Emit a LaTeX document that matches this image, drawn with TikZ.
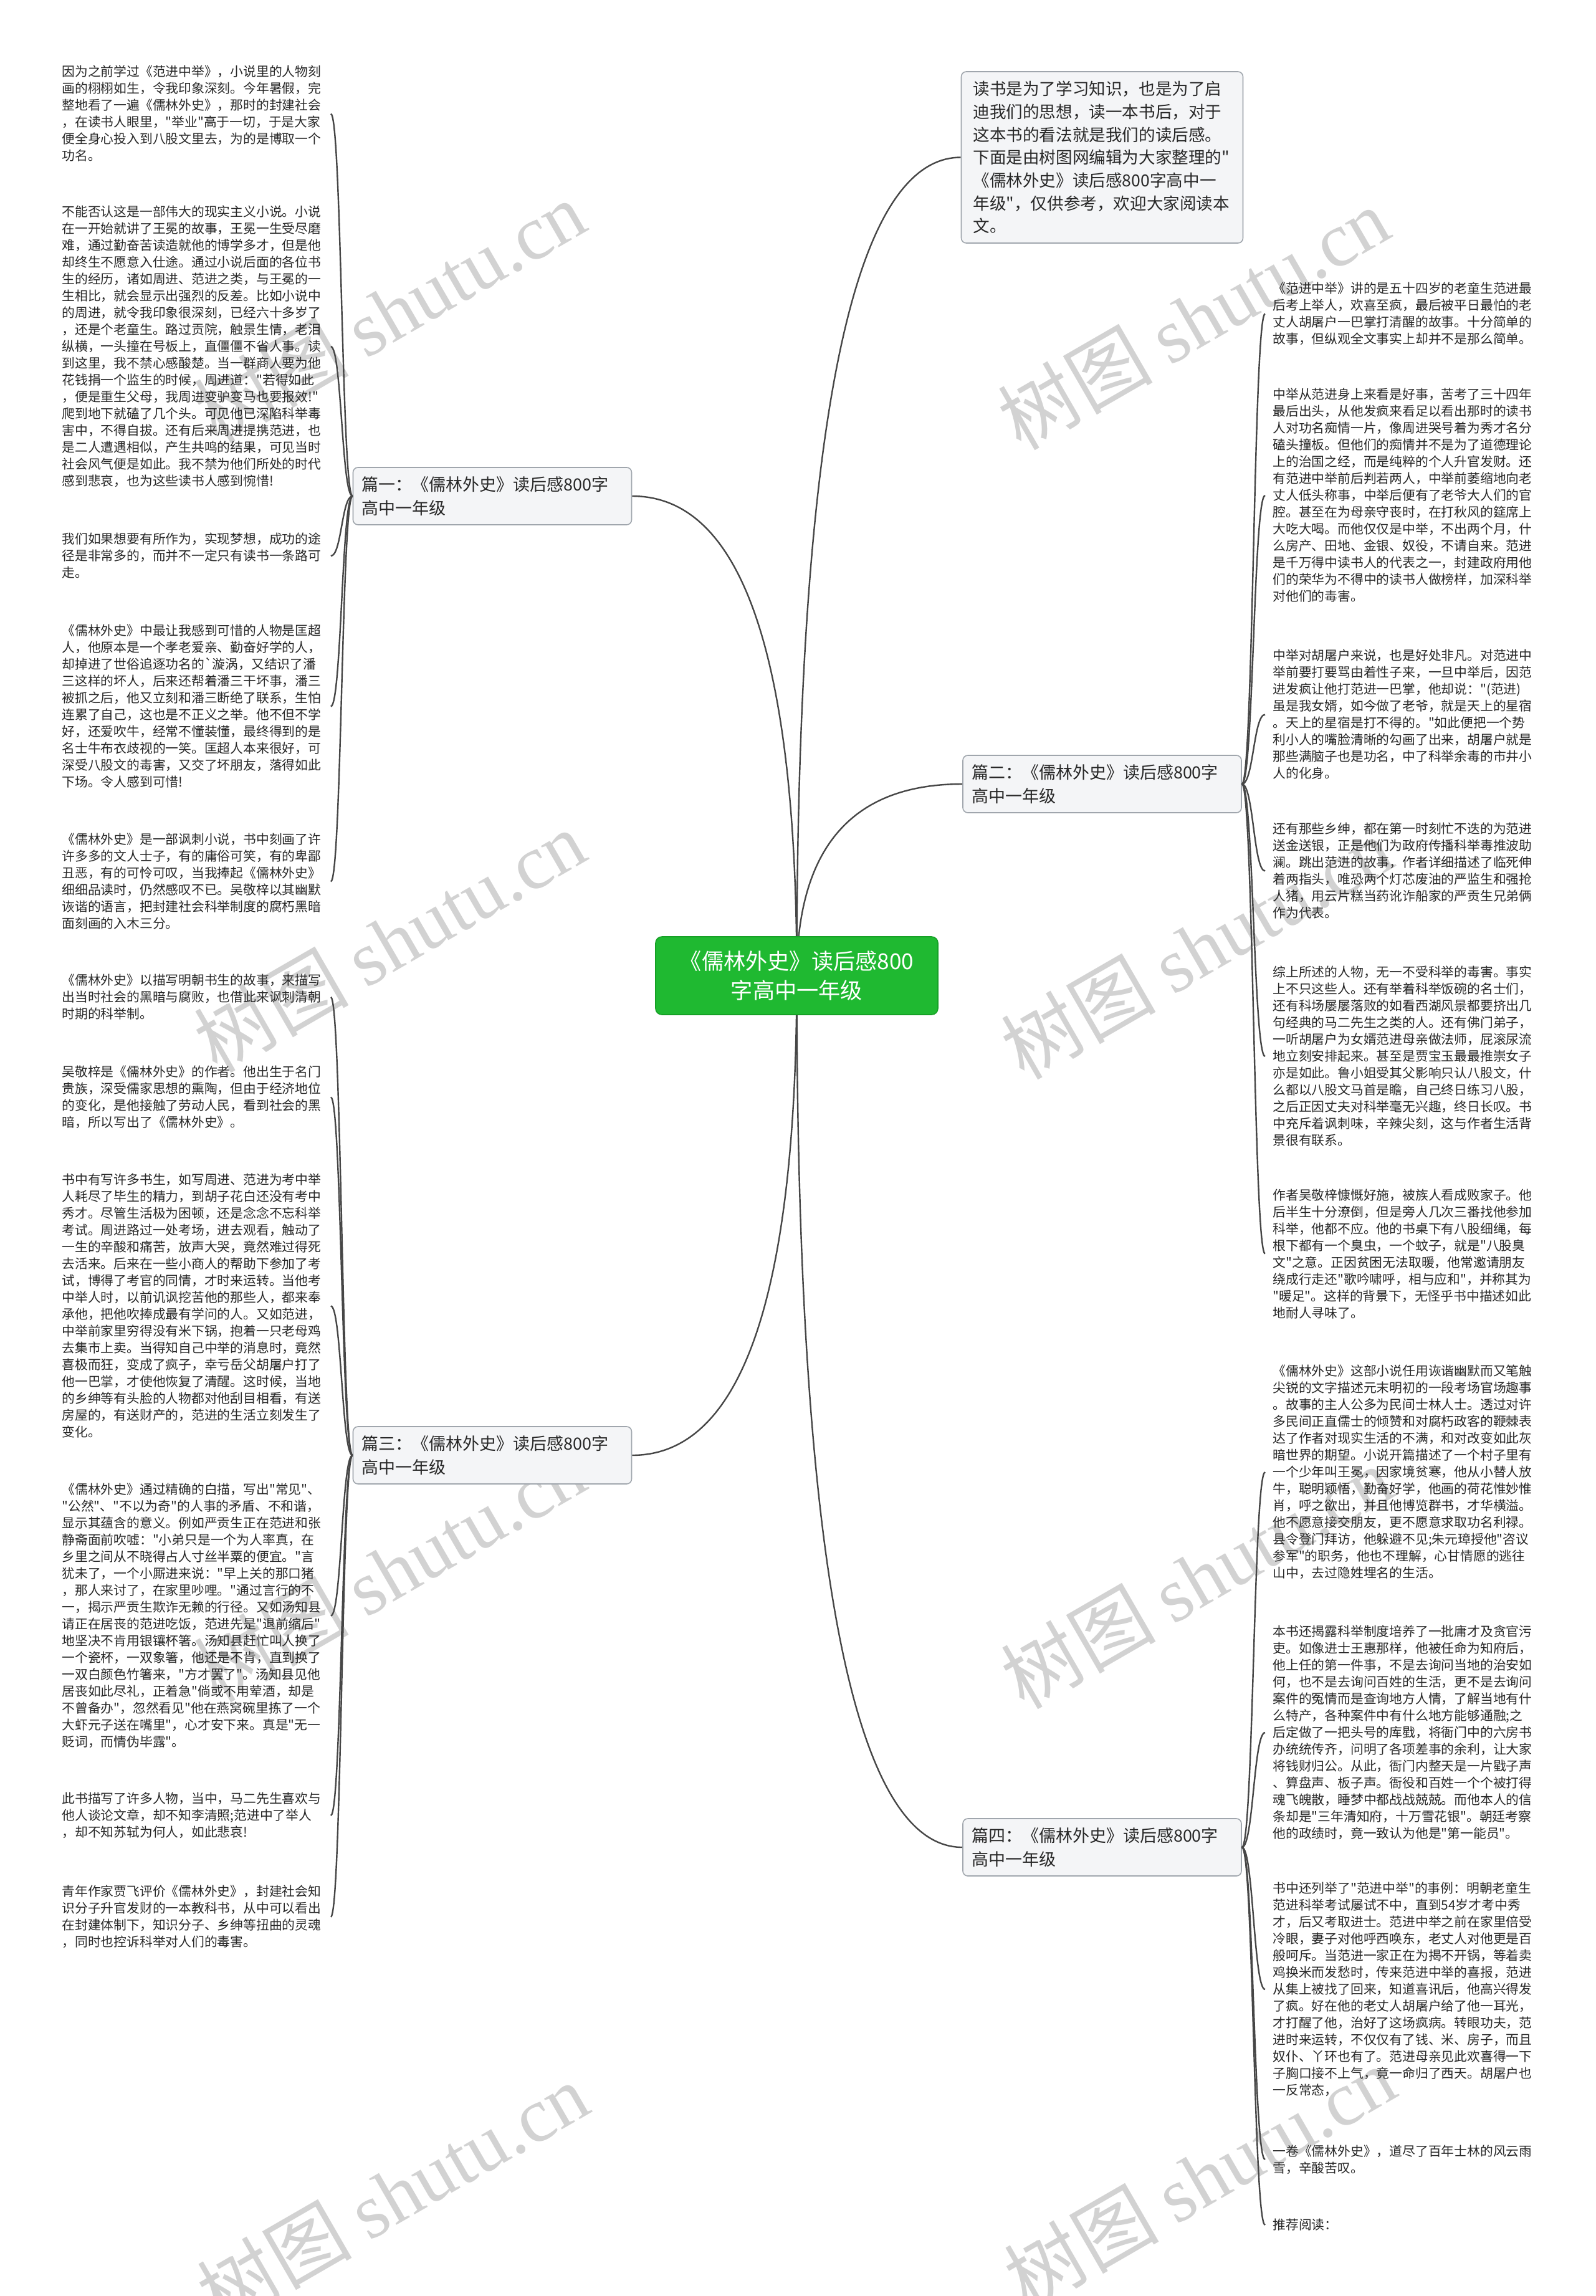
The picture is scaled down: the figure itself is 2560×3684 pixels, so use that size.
\documentclass[tikz,border=0pt]{standalone}
\usepackage{fontspec}
\newfontfamily\cjk{Noto Sans CJK SC}
\newfontfamily\wmlat{Liberation Serif}
\usetikzlibrary{calc}
\definecolor{rootgreen}{RGB}{31,185,49}
\definecolor{rootborder}{RGB}{22,160,38}
\definecolor{boxfill}{RGB}{244,245,247}
\definecolor{boxborder}{RGB}{160,166,173}
\definecolor{connc}{RGB}{70,70,70}
\definecolor{txt}{RGB}{40,40,40}
\definecolor{wmgray}{RGB}{210,210,210}
\newcommand\rootlink[2]{\draw[conn] (rc) .. controls ($(rc)!0.667!(rc|-#1.#2)$) and ($(#1.#2)!0.667!(rc|-#1.#2)$) .. (#1.#2);}
\newcommand\leafL[2]{\draw[conn] (#1.west) .. controls ($(#1.west)!0.5!(#1.west-|#2.east)$) and ($(#2.east)!0.5!(#2.east-|#1.west)$) .. (#2.east);}
\newcommand\leafR[2]{\draw[conn] (#1.east) .. controls ($(#1.east)!0.5!(#1.east-|#2.west)$) and ($(#2.west)!0.5!(#2.west-|#1.east)$) .. (#2.west);}
\begin{document}
\begin{tikzpicture}[x=0.5pt,y=-0.5pt,
  conn/.style={draw=connc,line width=1.2pt},
  leafL/.style={anchor=west,font=\cjk\fontsize{10.4pt}{13.5pt}\selectfont,align=left,text width=208pt,inner xsep=7.5pt,inner ysep=0pt,text=txt},
  leafR/.style={anchor=west,font=\cjk\fontsize{10.4pt}{13.5pt}\selectfont,align=left,text width=208pt,inner xsep=6pt,inner ysep=0pt,text=txt},
  branch/.style={draw=boxborder,fill=boxfill,line width=0.8pt,rounded corners=4pt,font=\cjk\fontsize{13.5pt}{18.8pt}\selectfont,align=left,text width=209.5pt,inner xsep=7pt,minimum height=46pt,text=txt},
  intro/.style={draw=boxborder,fill=boxfill,line width=0.8pt,rounded corners=4pt,font=\cjk\fontsize{13.3pt}{18.35pt}\selectfont,align=left,text width=207pt,inner xsep=9.5pt,minimum height=137.5pt,text=txt},
  rootbox/.style={draw=rootborder,fill=rootgreen,line width=0.8pt,rounded corners=5pt,font=\cjk\fontsize{17.6pt}{23.5pt}\selectfont,align=center,text=white,minimum width=226.5pt,minimum height=62.5pt},
  wm/.style={rotate=30,text=wmgray,font=\cjk\fontsize{62pt}{62pt}\selectfont}]
\useasboundingbox (0,0) rectangle (2560,3684);
\fill[white] (0,0) rectangle (2560,3684);
% watermarks
\node[wm] (w1) at (625,500) {树图 {\wmlat shutu.cn}};
\node[wm] (w2) at (625,1510) {树图 {\wmlat shutu.cn}};
\node[wm] (w3) at (625,2520) {树图 {\wmlat shutu.cn}};
\node[wm] (w4) at (630,3520) {树图 {\wmlat shutu.cn}};
\node[wm] (w5) at (1915,511) {树图 {\wmlat shutu.cn}};
\node[wm] (w6) at (1920,1521) {树图 {\wmlat shutu.cn}};
\node[wm] (w7) at (1920,2531) {树图 {\wmlat shutu.cn}};
\node[wm] (w8) at (1925,3494) {树图 {\wmlat shutu.cn}};

\coordinate (rc) at (1278.5,1565.5);
% branches
\node[intro] (intro) at (1768.5,252.5) {读书是为了学习知识，也是为了启\\
迪我们的思想，读一本书后，对于\\
这本书的看法就是我们的读后感。\\
下面是由树图网编辑为大家整理的"\\
《儒林外史》读后感800字高中一\\
年级"，仅供参考，欢迎大家阅读本\\
文。};
\node[branch] (b1) at (790,796) {篇一：《儒林外史》读后感800字\\高中一年级};
\node[branch] (b2) at (1768.5,1258) {篇二：《儒林外史》读后感800字\\高中一年级};
\node[branch] (b3) at (790,2335) {篇三：《儒林外史》读后感800字\\高中一年级};
\node[branch] (b4) at (1768.5,2964) {篇四：《儒林外史》读后感800字\\高中一年级};

% left leaves
\node[leafL] (L1) at (84,182.5) {因为之前学过《范进中举》，小说里的人物刻\\
画的栩栩如生，令我印象深刻。今年暑假，完\\
整地看了一遍《儒林外史》，那时的封建社会\\
，在读书人眼里，"举业"高于一切，于是大家\\
便全身心投入到八股文里去，为的是博取一个\\
功名。};
\node[leafL] (L2) at (84,556) {不能否认这是一部伟大的现实主义小说。小说\\
在一开始就讲了王冕的故事，王冕一生受尽磨\\
难，通过勤奋苦读造就他的博学多才，但是他\\
却终生不愿意入仕途。通过小说后面的各位书\\
生的经历，诸如周进、范进之类，与王冕的一\\
生相比，就会显示出强烈的反差。比如小说中\\
的周进，就令我印象很深刻，已经六十多岁了\\
，还是个老童生。路过贡院，触景生情，老泪\\
纵横，一头撞在号板上，直僵僵不省人事。读\\
到这里，我不禁心感酸楚。当一群商人要为他\\
花钱捐一个监生的时候，周进道："若得如此\\
，便是重生父母，我周进变驴变马也要报效!"\\
爬到地下就磕了几个头。可见他已深陷科举毒\\
害中，不得自拔。还有后来周进提携范进，也\\
是二人遭遇相似，产生共鸣的结果，可见当时\\
社会风气便是如此。我不禁为他们所处的时代\\
感到悲哀，也为这些读书人感到惋惜!};
\node[leafL] (L3) at (84,892) {我们如果想要有所作为，实现梦想，成功的途\\
径是非常多的，而并不一定只有读书一条路可\\
走。};
\node[leafL] (L4) at (84,1133.5) {《儒林外史》中最让我感到可惜的人物是匡超\\
人，他原本是一个孝老爱亲、勤奋好学的人，\\
却掉进了世俗追逐功名的`漩涡，又结识了潘\\
三这样的坏人，后来还帮着潘三干坏事，潘三\\
被抓之后，他又立刻和潘三断绝了联系，生怕\\
连累了自己，这也是不正义之举。他不但不学\\
好，还爱吹牛，经常不懂装懂，最终得到的是\\
名士牛布衣歧视的一笑。匡超人本来很好，可\\
深受八股文的毒害，又交了坏朋友，落得如此\\
下场。令人感到可惜!};
\node[leafL] (L5) at (84,1414.5) {《儒林外史》是一部讽刺小说，书中刻画了许\\
许多多的文人士子，有的庸俗可笑，有的卑鄙\\
丑恶，有的可怜可叹，当我捧起《儒林外史》\\
细细品读时，仍然感叹不已。吴敬梓以其幽默\\
诙谐的语言，把封建社会科举制度的腐朽黑暗\\
面刻画的入木三分。};
\node[leafL] (L6) at (84,1600) {《儒林外史》以描写明朝书生的故事，来描写\\
出当时社会的黑暗与腐败，也借此来讽刺清朝\\
时期的科举制。};
\node[leafL] (L7) at (84,1760.5) {吴敬梓是《儒林外史》的作者。他出生于名门\\
贵族，深受儒家思想的熏陶，但由于经济地位\\
的变化，是他接触了劳动人民，看到社会的黑\\
暗，所以写出了《儒林外史》。};
\node[leafL] (L8) at (84,2095.5) {书中有写许多书生，如写周进、范进为考中举\\
人耗尽了毕生的精力，到胡子花白还没有考中\\
秀才。尽管生活极为困顿，还是念念不忘科举\\
考试。周进路过一处考场，进去观看，触动了\\
一生的辛酸和痛苦，放声大哭，竟然难过得死\\
去活来。后来在一些小商人的帮助下参加了考\\
试，博得了考官的同情，才时来运转。当他考\\
中举人时，以前讥讽挖苦他的那些人，都来奉\\
承他，把他吹捧成最有学问的人。又如范进，\\
中举前家里穷得没有米下锅，抱着一只老母鸡\\
去集市上卖。当得知自己中举的消息时，竟然\\
喜极而狂，变成了疯子，幸亏岳父胡屠户打了\\
他一巴掌，才使他恢复了清醒。这时候，当地\\
的乡绅等有头脸的人物都对他刮目相看，有送\\
房屋的，有送财产的，范进的生活立刻发生了\\
变化。};
\node[leafL] (L9) at (84,2592.5) {《儒林外史》通过精确的白描，写出"常见"、\\
"公然"、"不以为奇"的人事的矛盾、不和谐，\\
显示其蕴含的意义。例如严贡生正在范进和张\\
静斋面前吹嘘："小弟只是一个为人率真，在\\
乡里之间从不晓得占人寸丝半粟的便宜。"言\\
犹未了，一个小厮进来说："早上关的那口猪\\
，那人来讨了，在家里吵哩。"通过言行的不\\
一，揭示严贡生欺诈无赖的行径。又如汤知县\\
请正在居丧的范进吃饭，范进先是"退前缩后"\\
地坚决不肯用银镶杯箸。汤知县赶忙叫人换了\\
一个瓷杯，一双象箸，他还是不肯，直到换了\\
一双白颜色竹箸来，"方才罢了"。汤知县见他\\
居丧如此尽礼，正着急"倘或不用荤酒，却是\\
不曾备办"，忽然看见"他在燕窝碗里拣了一个\\
大虾元子送在嘴里"，心才安下来。真是"无一\\
贬词，而情伪毕露"。};
\node[leafL] (L10) at (84,2913) {此书描写了许多人物，当中，马二先生喜欢与\\
他人谈论文章，却不知李清照;范进中了举人\\
，却不知苏轼为何人，如此悲哀!};
\node[leafL] (L11) at (84,3075.5) {青年作家贾飞评价《儒林外史》，封建社会知\\
识分子升官发财的一本教科书，从中可以看出\\
在封建体制下，知识分子、乡绅等扭曲的灵魂\\
，同时也控诉科举对人们的毒害。};

% right leaves
\node[leafR] (R1) at (2030,503.5) {《范进中举》讲的是五十四岁的老童生范进最\\
后考上举人，欢喜至疯，最后被平日最怕的老\\
丈人胡屠户一巴掌打清醒的故事。十分简单的\\
故事，但纵观全文事实上却并不是那么简单。};
\node[leafR] (R2) at (2030,795) {中举从范进身上来看是好事，苦考了三十四年\\
最后出头，从他发疯来看足以看出那时的读书\\
人对功名痴情一片，像周进哭号着为秀才名分\\
磕头撞板。但他们的痴情并不是为了道德理论\\
上的治国之经，而是纯粹的个人升官发财。还\\
有范进中举前后判若两人，中举前萎缩地向老\\
丈人低头称事，中举后便有了老爷大人们的官\\
腔。甚至在为母亲守丧时，在打秋风的筵席上\\
大吃大喝。而他仅仅是中举，不出两个月，什\\
么房产、田地、金银、奴役，不请自来。范进\\
是千万得中读书人的代表之一，封建政府用他\\
们的荣华为不得中的读书人做榜样，加深科举\\
对他们的毒害。};
\node[leafR] (R3) at (2030,1146.5) {中举对胡屠户来说，也是好处非凡。对范进中\\
举前要打要骂由着性子来，一旦中举后，因范\\
进发疯让他打范进一巴掌，他却说："(范进)\\
虽是我女婿，如今做了老爷，就是天上的星宿\\
。天上的星宿是打不得的。"如此便把一个势\\
利小人的嘴脸清晰的勾画了出来，胡屠户就是\\
那些满脑子也是功名，中了科举余毒的市井小\\
人的化身。};
\node[leafR] (R4) at (2030,1397.5) {还有那些乡绅，都在第一时刻忙不迭的为范进\\
送金送银，正是他们为政府传播科举毒推波助\\
澜。跳出范进的故事，作者详细描述了临死伸\\
着两指头，唯恐两个灯芯废油的严监生和强抢\\
人猪，用云片糕当药讹诈船家的严贡生兄弟俩\\
作为代表。};
\node[leafR] (R5) at (2030,1695) {综上所述的人物，无一不受科举的毒害。事实\\
上不只这些人。还有举着科举饭碗的名士们，\\
还有科场屡屡落败的如看西湖风景都要挤出几\\
句经典的马二先生之类的人。还有佛门弟子，\\
一听胡屠户为女婿范进母亲做法师，屁滚尿流\\
地立刻安排起来。甚至是贾宝玉最最推崇女子\\
亦是如此。鲁小姐受其父影响只认八股文，什\\
么都以八股文马首是瞻，自己终日练习八股，\\
之后正因丈夫对科举毫无兴趣，终日长叹。书\\
中充斥着讽刺味，辛辣尖刻，这与作者生活背\\
景很有联系。};
\node[leafR] (R6) at (2030,2011.5) {作者吴敬梓慷慨好施，被族人看成败家子。他\\
后半生十分潦倒，但是旁人几次三番找他参加\\
科举，他都不应。他的书桌下有八股细绳，每\\
根下都有一个臭虫，一个蚊子，就是"八股臭\\
文"之意。正因贫困无法取暖，他常邀请朋友\\
绕成行走还"歌吟啸呼，相与应和"，并称其为\\
"暖足"。这样的背景下，无怪乎书中描述如此\\
地耐人寻味了。};
\node[leafR] (R7) at (2030,2362) {《儒林外史》这部小说任用诙谐幽默而又笔触\\
尖锐的文字描述元末明初的一段考场官场趣事\\
。故事的主人公多为民间士林人士。透过对许\\
多民间正直儒士的倾赞和对腐朽政客的鞭棘表\\
达了作者对现实生活的不满，和对改变如此灰\\
暗世界的期望。小说开篇描述了一个村子里有\\
一个少年叫王冕，因家境贫寒，他从小替人放\\
牛，聪明颖悟，勤奋好学，他画的荷花惟妙惟\\
肖，呼之欲出，并且他博览群书，才华横溢。\\
他不愿意接交朋友，更不愿意求取功名利禄。\\
县令登门拜访，他躲避不见;朱元璋授他"咨议\\
参军"的职务，他也不理解，心甘情愿的逃往\\
山中，去过隐姓埋名的生活。};
\node[leafR] (R8) at (2030,2780) {本书还揭露科举制度培养了一批庸才及贪官污\\
吏。如像进士王惠那样，他被任命为知府后，\\
他上任的第一件事，不是去询问当地的治安如\\
何，也不是去询问百姓的生活，更不是去询问\\
案件的冤情而是查询地方人情，了解当地有什\\
么特产，各种案件中有什么地方能够通融;之\\
后定做了一把头号的库戥，将衙门中的六房书\\
办统统传齐，问明了各项差事的余利，让大家\\
将钱财归公。从此，衙门内整天是一片戥子声\\
、算盘声、板子声。衙役和百姓一个个被打得\\
魂飞魄散，睡梦中都战战兢兢。而他本人的信\\
条却是"三年清知府，十万雪花银"。朝廷考察\\
他的政绩时，竟一致认为他是"第一能员"。};
\node[leafR] (R9) at (2030,3192) {书中还列举了"范进中举"的事例：明朝老童生\\
范进科举考试屡试不中，直到54岁才考中秀\\
才，后又考取进士。范进中举之前在家里倍受\\
冷眼，妻子对他呼西唤东，老丈人对他更是百\\
般呵斥。当范进一家正在为揭不开锅，等着卖\\
鸡换米而发愁时，传来范进中举的喜报，范进\\
从集上被找了回来，知道喜讯后，他高兴得发\\
了疯。好在他的老丈人胡屠户给了他一耳光，\\
才打醒了他，治好了这场疯病。转眼功夫，范\\
进时来运转，不仅仅有了钱、米、房子，而且\\
奴仆、丫环也有了。范进母亲见此欢喜得一下\\
子胸口接不上气，竟一命归了西天。胡屠户也\\
一反常态，};
\node[leafR] (R10) at (2030,3465) {一卷《儒林外史》，道尽了百年士林的风云雨\\
雪，辛酸苦叹。};
\node[leafR] (R11) at (2030,3570) {推荐阅读：};

% connectors
\rootlink{intro}{west}
\rootlink{b1}{east}
\rootlink{b2}{west}
\rootlink{b3}{east}
\rootlink{b4}{west}
\leafL{b1}{L1}
\leafL{b1}{L2}
\leafL{b1}{L3}
\leafL{b1}{L4}
\leafL{b1}{L5}
\leafL{b3}{L6}
\leafL{b3}{L7}
\leafL{b3}{L8}
\leafL{b3}{L9}
\leafL{b3}{L10}
\leafL{b3}{L11}
\leafR{b2}{R1}
\leafR{b2}{R2}
\leafR{b2}{R3}
\leafR{b2}{R4}
\leafR{b2}{R5}
\leafR{b2}{R6}
\leafR{b4}{R7}
\leafR{b4}{R8}
\leafR{b4}{R9}
\leafR{b4}{R10}
\leafR{b4}{R11}

% root on top
\node[rootbox] (root) at (rc) {《儒林外史》读后感800\\字高中一年级};
\end{tikzpicture}
\end{document}
